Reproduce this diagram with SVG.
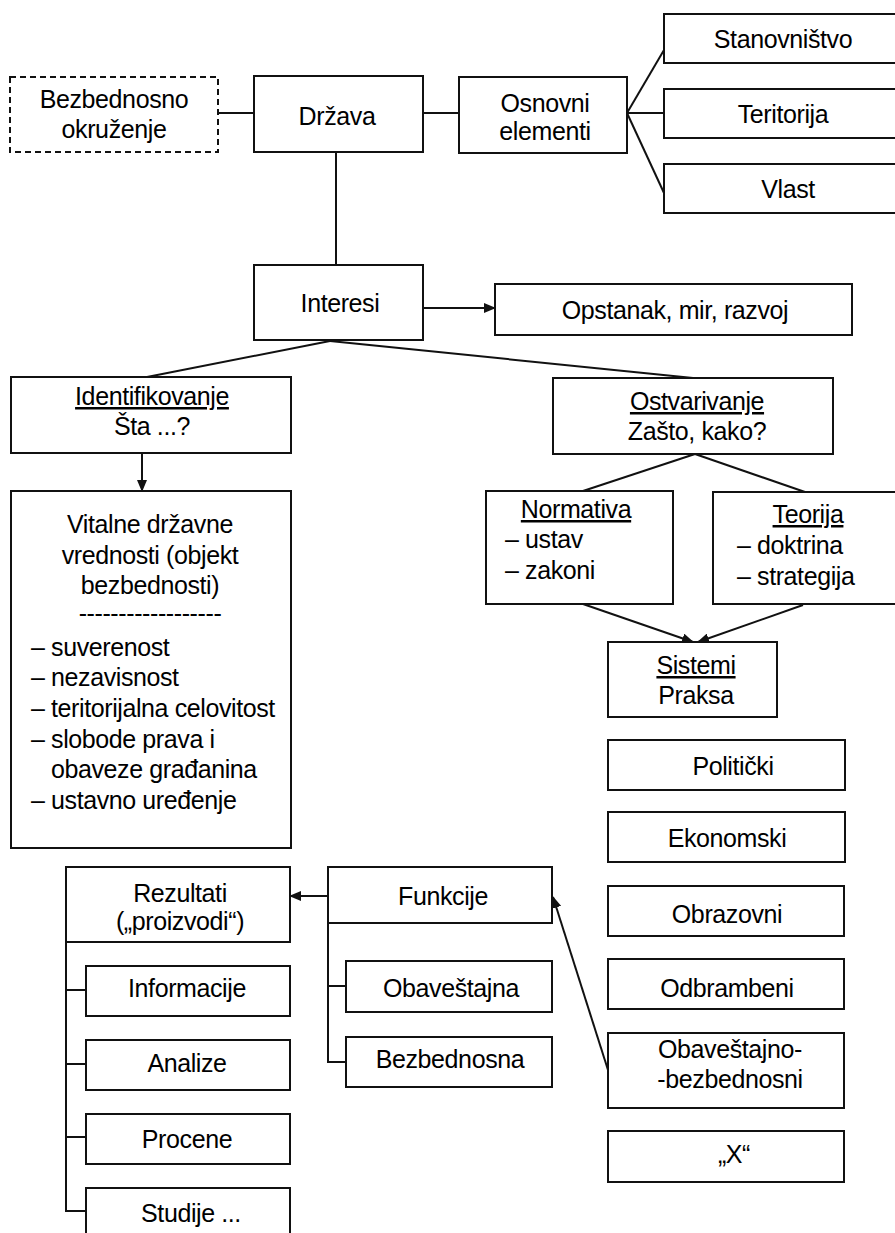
<svg xmlns="http://www.w3.org/2000/svg" width="895" height="1233" viewBox="0 0 895 1233">
<defs>
<marker id="ah" markerWidth="12" markerHeight="10" refX="11" refY="5" orient="auto" markerUnits="userSpaceOnUse">
<path d="M0,0 L12,5 L0,10 Z" fill="#111"/>
</marker>
<style>
rect{fill:#fff;stroke:#111;stroke-width:2}
.dash{stroke-dasharray:6 4}
text{font-family:"Liberation Sans",Arial,sans-serif;font-size:25px;letter-spacing:-0.4px;fill:#000}
.c{text-anchor:middle}
.u{text-decoration:underline}
#connectors line,#connectors polyline{stroke:#111;stroke-width:2;fill:none}
.arr{marker-end:url(#ah)}
</style>
</defs>
<rect x="0" y="0" width="895" height="1233" style="fill:#fff;stroke:none"/>

<g id="connectors">
<line x1="218" y1="113" x2="254" y2="113"/>
<line x1="423" y1="113" x2="459" y2="113"/>
<line x1="627" y1="113" x2="664" y2="50"/>
<line x1="627" y1="113" x2="664" y2="113"/>
<line x1="627" y1="113" x2="664" y2="193"/>
<line x1="336" y1="152" x2="336" y2="265"/>
<line class="arr" x1="423" y1="308" x2="495" y2="308"/>
<line x1="330" y1="341" x2="147" y2="377"/>
<line x1="330" y1="341" x2="693" y2="378"/>
<line class="arr" x1="142" y1="453" x2="142" y2="491"/>
<line x1="695" y1="454" x2="583" y2="491"/>
<line x1="695" y1="454" x2="805" y2="492"/>
<line class="arr" x1="583" y1="604" x2="693" y2="642"/>
<line class="arr" x1="803" y1="605" x2="698" y2="642"/>
<line class="arr" x1="328" y1="896" x2="290" y2="896"/>
<line class="arr" x1="608" y1="1070" x2="553" y2="897"/>
<polyline points="66,942 66,1211 86,1211"/>
<line x1="66" y1="990" x2="86" y2="990"/>
<line x1="66" y1="1064" x2="86" y2="1064"/>
<line x1="66" y1="1137" x2="86" y2="1137"/>
<polyline points="328,923 328,1062 346,1062"/>
<line x1="328" y1="986" x2="346" y2="986"/>
</g>

<g id="bezbednosno-okruzenje">
<rect class="dash" x="10" y="77" width="208" height="75"/>
<text class="c" x="114" y="108">Bezbednosno</text>
<text class="c" x="114" y="138">okruženje</text>
</g>
<g id="drzava">
<rect x="254" y="76" width="169" height="76"/>
<text class="c" x="337" y="125">Država</text>
</g>
<g id="osnovni-elementi">
<rect x="459" y="77" width="168" height="76"/>
<text class="c" x="545" y="112">Osnovni</text>
<text class="c" x="545" y="140">elementi</text>
</g>
<g id="stanovnistvo">
<rect x="664" y="14" width="233" height="49"/>
<text class="c" x="783" y="48">Stanovništvo</text>
</g>
<g id="teritorija">
<rect x="664" y="89" width="233" height="49"/>
<text class="c" x="783" y="123">Teritorija</text>
</g>
<g id="vlast">
<rect x="664" y="164" width="233" height="49"/>
<text class="c" x="788" y="198">Vlast</text>
</g>
<g id="interesi">
<rect x="254" y="265" width="169" height="75"/>
<text class="c" x="340" y="312">Interesi</text>
</g>
<g id="opstanak">
<rect x="495" y="284" width="357" height="51"/>
<text class="c" x="675" y="319">Opstanak, mir, razvoj</text>
</g>
<g id="identifikovanje">
<rect x="11" y="377" width="280" height="76"/>
<text class="c u" x="152" y="405">Identifikovanje</text>
<text class="c" x="152" y="435">Šta ...?</text>
</g>
<g id="ostvarivanje">
<rect x="553" y="378" width="280" height="76"/>
<text class="c u" x="697" y="410">Ostvarivanje</text>
<text class="c" x="697" y="440">Zašto, kako?</text>
</g>
<g id="vitalne-vrednosti">
<rect x="11" y="491" width="280" height="357"/>
<text class="c" x="150" y="533">Vitalne državne</text>
<text class="c" x="150" y="564">vrednosti (objekt</text>
<text class="c" x="150" y="594">bezbednosti)</text>
<text class="c" x="150" y="622">------------------</text>
<text x="31" y="656">– suverenost</text>
<text x="31" y="686">– nezavisnost</text>
<text x="31" y="717">– teritorijalna celovitost</text>
<text x="31" y="748">– slobode prava i</text>
<text x="51" y="778">obaveze građanina</text>
<text x="31" y="809">– ustavno uređenje</text>
</g>
<g id="normativa">
<rect x="486" y="491" width="187" height="113"/>
<text class="c u" x="576" y="518">Normativa</text>
<text x="505" y="548">– ustav</text>
<text x="505" y="579">– zakoni</text>
</g>
<g id="teorija">
<rect x="713" y="492" width="184" height="112"/>
<text class="c u" x="808" y="523">Teorija</text>
<text x="737" y="554">– doktrina</text>
<text x="737" y="585">– strategija</text>
</g>
<g id="sistemi">
<rect x="608" y="642" width="169" height="75"/>
<text class="c u" x="696" y="674">Sistemi</text>
<text class="c" x="696" y="704">Praksa</text>
</g>
<g id="politicki">
<rect x="608" y="740" width="237" height="50"/>
<text class="c" x="733" y="775">Politički</text>
</g>
<g id="ekonomski">
<rect x="608" y="812" width="237" height="50"/>
<text class="c" x="727" y="847">Ekonomski</text>
</g>
<g id="obrazovni">
<rect x="608" y="886" width="236" height="50"/>
<text class="c" x="727" y="923">Obrazovni</text>
</g>
<g id="odbrambeni">
<rect x="608" y="959" width="236" height="50"/>
<text class="c" x="727" y="997">Odbrambeni</text>
</g>
<g id="obavestajno-bezbednosni">
<rect x="608" y="1033" width="236" height="75"/>
<text class="c" x="730" y="1058">Obaveštajno-</text>
<text class="c" x="730" y="1088">-bezbednosni</text>
</g>
<g id="x">
<rect x="608" y="1131" width="236" height="51"/>
<text class="c" x="734" y="1163">„X“</text>
</g>
<g id="rezultati">
<rect x="66" y="867" width="224" height="75"/>
<text class="c" x="180" y="902">Rezultati</text>
<text class="c" x="180" y="930">(„proizvodi“)</text>
</g>
<g id="funkcije">
<rect x="328" y="867" width="224" height="56"/>
<text class="c" x="443" y="905">Funkcije</text>
</g>
<g id="obavestajna">
<rect x="346" y="961" width="206" height="51"/>
<text class="c" x="451" y="997">Obaveštajna</text>
</g>
<g id="bezbednosna">
<rect x="346" y="1037" width="206" height="50"/>
<text class="c" x="450" y="1068">Bezbednosna</text>
</g>
<g id="informacije">
<rect x="86" y="966" width="204" height="50"/>
<text class="c" x="187" y="997">Informacije</text>
</g>
<g id="analize">
<rect x="86" y="1040" width="204" height="50"/>
<text class="c" x="187" y="1072">Analize</text>
</g>
<g id="procene">
<rect x="86" y="1114" width="204" height="50"/>
<text class="c" x="187" y="1148">Procene</text>
</g>
<g id="studije">
<rect x="86" y="1188" width="204" height="50"/>
<text class="c" x="191" y="1222">Studije ...</text>
</g>
</svg>
